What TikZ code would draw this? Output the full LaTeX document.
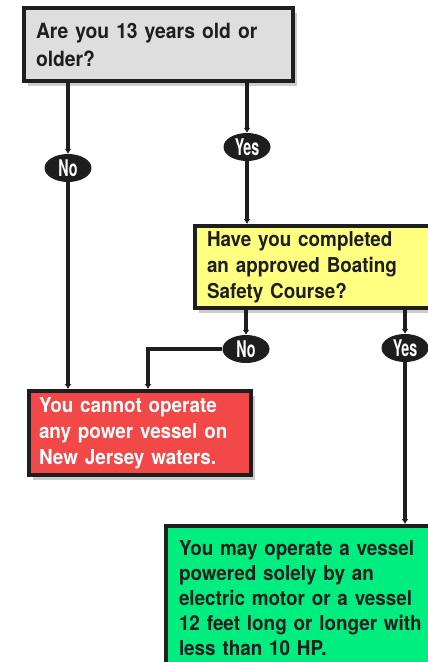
\documentclass[tikz,border=0pt]{standalone}
\usepackage{fontspec}
\setmainfont{TeX Gyre Heros}[FakeStretch=0.92]
\newfontfamily\ovalfont{TeX Gyre Heros}[FakeStretch=0.62]
\usetikzlibrary{arrows.meta, shapes.geometric, shadows}

\definecolor{ink}{RGB}{30,30,30}
\definecolor{boxgray}{RGB}{222,222,222}
\definecolor{boxyellow}{RGB}{255,255,128}
\definecolor{boxred}{RGB}{242,72,72}
\definecolor{boxgreen}{RGB}{0,238,128}

\begin{document}
\begin{tikzpicture}[x=1pt, y=-1pt,
qbox/.style={rectangle, draw=ink, line width=4pt, align=left, inner sep=0pt,
  text=ink, font=\bfseries\fontsize{20.5}{26}\selectfont,
  drop shadow={shadow xshift=4pt, shadow yshift=-5pt, fill=black!20, opacity=1}},
answer/.style={ellipse, fill=ink, inner sep=0pt, minimum width=47pt,
  minimum height=28pt, text=white, font=\ovalfont\bfseries\fontsize{23}{23}\selectfont},
link/.style={draw=ink, line width=3.2pt, -{Latex[length=5pt,width=7pt]}}
]
\useasboundingbox (0,0) rectangle (428,662);
\clip (0,0) rectangle (428,662);

% questions and outcomes
\node[qbox, fill=boxgray, minimum width=269pt, minimum height=73pt, text width=245pt,
  font=\bfseries\fontsize{21}{28}\selectfont] (age) at (158.5,44.5)
  {Are you 13 years old or\\older?};
\node[qbox, fill=boxyellow, minimum width=237pt, minimum height=82pt, text width=213pt] (course) at (313.5,267)
  {Have you completed\\an approved Boating\\Safety Course?};
\node[qbox, fill=boxred, minimum width=222pt, minimum height=84pt, text width=202pt, text=white] (stop) at (140,433)
  {You cannot operate\\any power vessel on\\New Jersey waters.};
\node[qbox, fill=boxgreen, minimum width=279pt, minimum height=144pt, text width=253pt,
  font=\bfseries\fontsize{20.5}{25}\selectfont] (go) at (305.5,598)
  {You may operate a vessel\\powered solely by an\\electric motor or a vessel\\12 feet long or longer with\\less than 10 HP.};

% answers
\node[answer] (no1) at (68,168) {No};
\node[answer] (yes1) at (247,147) {Yes};
\node[answer] (no2) at (246,349) {No};
\node[answer] (yes2) at (405,348) {Yes};

\draw[link] (no1 |- age.south) -- (no1.north);
\draw[link] (no1.south) -- (no1 |- stop.north);
\draw[link] (yes1 |- age.south) -- (yes1.north);
\draw[link] (yes1.south) -- (yes1 |- course.north);
\draw[link] (no2 |- course.south) -- (no2.north);
\draw[link] (no2.west) -| ([xshift=8pt]stop.north);
\draw[link] (yes2 |- course.south) -- (yes2.north);
\draw[link] (yes2.south) -- (yes2 |- go.north);
\end{tikzpicture}
\end{document}
